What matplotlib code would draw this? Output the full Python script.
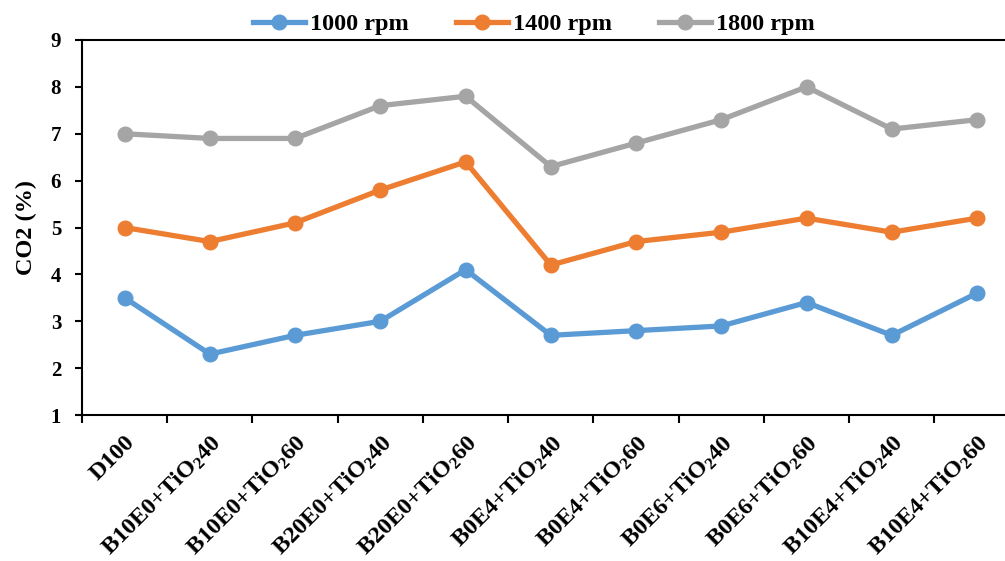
import numpy as np
import matplotlib
matplotlib.use('Agg')
from matplotlib import pyplot as plt
from matplotlib.ticker import FixedLocator

plt.rcParams['font.family'] = ['Liberation Serif', 'DejaVu Serif']
plt.rcParams['font.weight'] = 'bold'
plt.rcParams['mathtext.fontset'] = 'custom'
plt.rcParams['mathtext.rm'] = 'Liberation Serif:bold'
plt.rcParams['mathtext.it'] = 'Liberation Serif:bold'
plt.rcParams['mathtext.bf'] = 'Liberation Serif:bold'
plt.rcParams['mathtext.default'] = 'rm'

categories = ['D100', 'B10E0+TiO$_2$40', 'B10E0+TiO$_2$60', 'B20E0+TiO$_2$40',
              'B20E0+TiO$_2$60', 'B0E4+TiO$_2$40', 'B0E4+TiO$_2$60', 'B0E6+TiO$_2$40',
              'B0E6+TiO$_2$60', 'B10E4+TiO$_2$40', 'B10E4+TiO$_2$60']
rpm1000 = [3.5, 2.3, 2.7, 3.0, 4.1, 2.7, 2.8, 2.9, 3.4, 2.7, 3.6]
rpm1400 = [5.0, 4.7, 5.1, 5.8, 6.4, 4.2, 4.7, 4.9, 5.2, 4.9, 5.2]
rpm1800 = [7.0, 6.9, 6.9, 7.6, 7.8, 6.3, 6.8, 7.3, 8.0, 7.1, 7.3]

fig = plt.figure(figsize=(10.05, 5.61), dpi=100)
ax = fig.add_axes([0.0816, 0.2602, 0.933, 0.6685])

x = np.arange(len(categories))
ax.plot(x, rpm1000, color='#5B9BD5', lw=3.8, marker='o', ms=10.5, label='1000 rpm')
ax.plot(x, rpm1400, color='#ED7D31', lw=3.8, marker='o', ms=10.5, label='1400 rpm')
ax.plot(x, rpm1800, color='#A5A5A5', lw=3.8, marker='o', ms=10.5, label='1800 rpm')

ax.set_xlim(-0.5, len(categories) - 0.5)
ax.set_ylim(1, 9)
ax.set_yticks(range(1, 10))
ax.tick_params(axis='y', labelsize=15, length=5, width=1.5, direction='out', pad=10)

ax.set_xticks(x)
ax.set_xticklabels(categories, rotation=45, ha='right', rotation_mode='anchor', fontsize=17.5)
ax.tick_params(axis='x', which='major', length=0, pad=12)
ax.xaxis.set_minor_locator(FixedLocator(np.arange(-0.5, len(categories), 1.0)))
ax.tick_params(axis='x', which='minor', length=6, width=1.5, direction='out')

ax.set_ylabel('CO2 (%)', fontsize=17.5, fontweight='bold', labelpad=10)

for s in ['left', 'bottom', 'top']:
    ax.spines[s].set_linewidth(1.5)
ax.spines['right'].set_visible(False)

fig.legend(loc='center', bbox_to_anchor=(0.531, 0.957), ncol=3, frameon=False,
           fontsize=17.5, handlelength=2.14, columnspacing=1.95, handletextpad=0.2)

fig.savefig('out.png', dpi=100)
